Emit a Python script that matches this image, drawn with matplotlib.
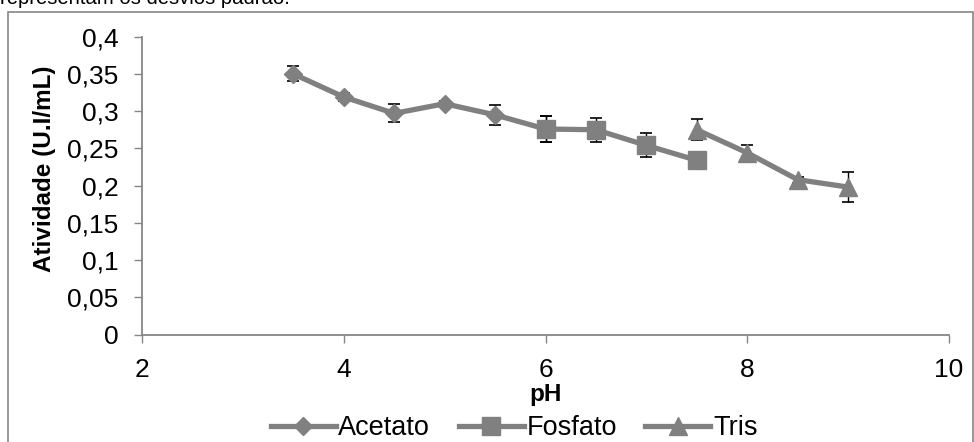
import matplotlib
matplotlib.use("Agg")
import matplotlib.pyplot as plt
from matplotlib.patches import Rectangle

plt.rcParams['font.family'] = ['Liberation Sans', 'DejaVu Sans']

# data
ph_acetato = [3.5, 4.0, 4.5, 5.0, 5.5, 6.0]
act_acetato = [0.350, 0.319, 0.297, 0.310, 0.295, 0.276]
err_acetato = [0.010, 0.005, 0.012, 0.003, 0.013, 0.018]

ph_fosfato = [6.0, 6.5, 7.0, 7.5]
act_fosfato = [0.276, 0.275, 0.254, 0.234]
err_fosfato = [0.018, 0.016, 0.016, 0.002]

ph_tris = [7.5, 8.0, 8.5, 9.0]
act_tris = [0.275, 0.244, 0.208, 0.198]
err_tris = [0.014, 0.011, 0.004, 0.020]

series = ["Acetato", "Fosfato", "Tris"]
xticks = [2, 4, 6, 8, 10]
yticks = [0, 0.05, 0.1, 0.15, 0.2, 0.25, 0.3, 0.35, 0.4]

W, H = 974, 442
fig = plt.figure(figsize=(W / 100, H / 100), dpi=100)
ax = fig.add_axes([142 / W, 1 - 334.5 / H, (949 - 142) / W, (334.5 - 36.7) / H])

gray = "#808080"
axis_gray = "#868686"

data = [(ph_acetato, act_acetato, err_acetato, "D", 9.5),
        (ph_fosfato, act_fosfato, err_fosfato, "s", 13),
        (ph_tris, act_tris, err_tris, "^", 13)]

for (x, y, e, m, ms), name in zip(data, series):
    ax.errorbar(x, y, yerr=e, fmt="none", ecolor="black", elinewidth=1,
                capsize=4.3, capthick=1.2, zorder=2)
    ax.plot(x, y, color=gray, lw=3.8, marker=m, ms=ms, mfc=gray, mec=gray,
            label=name, zorder=3)

ax.set_xlim(2, 10)
ax.set_ylim(0, 0.4)
ax.set_xticks(xticks)
ax.set_yticks(yticks)
ax.set_xticklabels([str(t) for t in xticks])
ax.set_yticklabels([("%g" % t).replace(".", ",") for t in yticks])
ax.tick_params(labelsize=19, color=axis_gray, length=6, width=1, direction="out")
ax.tick_params(axis="y", pad=11)
ax.tick_params(axis="x", pad=11)
for s in ["top", "right"]:
    ax.spines[s].set_visible(False)
for s in ["left", "bottom"]:
    ax.spines[s].set_color(axis_gray)
    ax.spines[s].set_linewidth(1.3)

ax.set_xlabel("pH", fontsize=17.5, fontweight="bold")
ax.xaxis.set_label_coords(0.5, (334.5 - 395) / (334.5 - 36.7))
ax.xaxis.label.set_va("center")
ax.set_ylabel("Atividade (U.I/mL)", fontsize=17.5, fontweight="bold")
ax.yaxis.set_label_coords((45 - 142) / (949 - 142), (334.5 - 169) / (334.5 - 36.7))
ax.yaxis.label.set_va("center")

fig.legend(loc="center", bbox_to_anchor=(514 / W, 1 - 428 / H), ncol=3,
           frameon=False, fontsize=19.5, handlelength=2.4, columnspacing=1.05,
           handletextpad=0.1, borderpad=0)

# chart frame and the caption clipped at the top
fig.patches.append(Rectangle((8 / W, -0.1), (973 - 8) / W, 1.1 - 12 / H,
                             transform=fig.transFigure, fill=False,
                             edgecolor=axis_gray, lw=1.2))
fig.text(0.0, 1 - 4 / H, "representam os desvios padrão.", fontsize=14.6,
         va="baseline", ha="left")

fig.savefig("out.png", dpi=100)
